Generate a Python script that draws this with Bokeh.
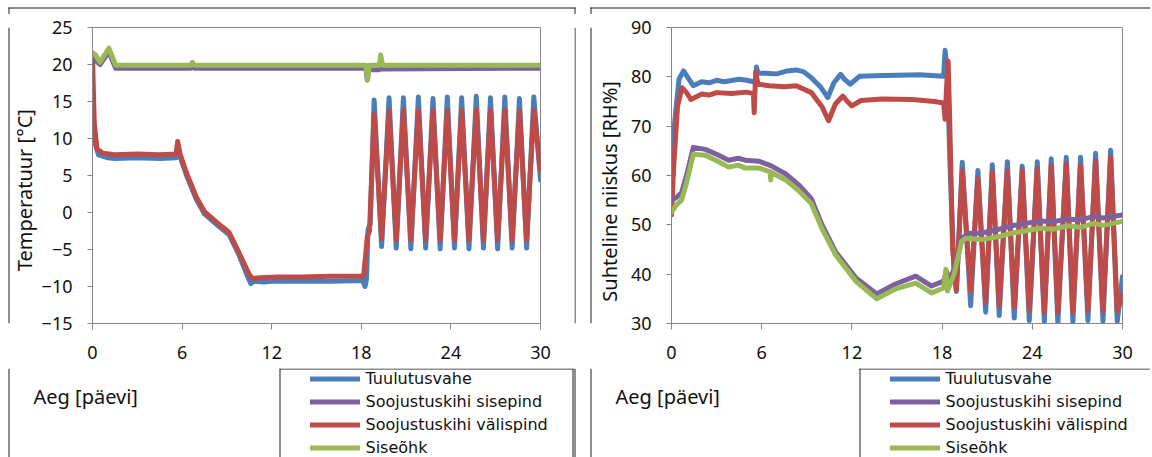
from bokeh.plotting import figure
from bokeh.models import (Range1d, FixedTicker, Legend, LegendItem, Label)
from bokeh.layouts import row, column
from bokeh.embed import file_html
from bokeh.resources import INLINE

# ---------------- DATA ----------------
series_names = ["Tuulutusvahe", "Soojustuskihi sisepind", "Soojustuskihi välispind", "Siseõhk"]
colors = ["#4A7EBB", "#7D60A0", "#BE4B48", "#98B954"]
x_ticks = [0, 6, 12, 18, 24, 30]
temp_ticks = [-15, -10, -5, 0, 5, 10, 15, 20, 25]
rh_ticks = [30, 40, 50, 60, 70, 80, 90]
x_title = "Aeg [päevi]"
temp_title = "Temperatuur [°C]"
rh_title = "Suhteline niiskus [RH%]"

# Temperature chart
t_tv_x = [0, 0.15, 0.4, 1.0, 1.5, 3, 4.5, 5.6, 5.75, 5.85, 6.3, 6.95, 7.5, 8.3, 9.15, 9.8, 10.4, 10.6, 10.8,
          11.5, 12, 14, 16, 18.1, 18.25, 18.35, 18.45, 18.6,
          18.86, 19.36, 19.86, 20.34, 20.82, 21.32, 21.82, 22.31, 22.80, 23.28, 23.76, 24.24, 24.72,
          25.21, 25.70, 26.18, 26.65, 27.13, 27.61, 28.10, 28.59, 29.07, 29.55, 30.0]
t_tv_y = [14.0, 9.5, 7.8, 7.4, 7.3, 7.4, 7.3, 7.4, 9.0, 7.6, 5.0, 1.8, -0.2, -1.6, -3.0, -5.7, -8.7, -9.6, -9.3,
          -9.4, -9.3, -9.3, -9.3, -9.2, -10.0, -9.0, -2.3, -1.5,
          15.2, -4.6, 15.5, -4.8, 15.5, -4.9, 15.6, -4.8, 15.4, -4.9, 15.6, -4.8, 15.5,
          -4.9, 15.7, -4.8, 15.5, -4.9, 15.6, -4.8, 15.4, -4.8, 15.6, 4.4]

t_out_x = [0, 0.12, 0.3, 0.7, 1.5, 3, 4.5, 5.6, 5.7, 5.85, 6.3, 6.95, 7.5, 8.3, 9.15, 9.8, 10.5, 10.7,
           11.5, 12.5, 14, 16, 18.15, 18.25, 18.4, 18.55,
           18.86, 19.36, 19.86, 20.34, 20.82, 21.32, 21.82, 22.31, 22.80, 23.28, 23.76, 24.24, 24.72,
           25.21, 25.70, 26.18, 26.65, 27.13, 27.61, 28.10, 28.59, 29.07, 29.55, 30.0]
t_out_y = [21.0, 12.0, 8.6, 8.0, 7.8, 7.9, 7.8, 7.9, 9.6, 8.0, 5.3, 2.1, 0.1, -1.3, -2.7, -5.4, -8.4, -8.9,
           -8.8, -8.7, -8.7, -8.6, -8.6, -6.6, -3.3, -2.5,
           13.3, -3.5, 13.7, -3.7, 13.8, -3.7, 13.8, -3.7, 13.7, -3.7, 13.8, -3.7, 13.8,
           -3.7, 13.9, -3.7, 13.8, -3.7, 13.8, -3.7, 13.7, -3.7, 13.8, 5.6]

t_in_x = [0, 0.5, 1.1, 1.55, 6.6, 6.7, 6.8, 18.3, 18.4, 18.5, 19.2, 19.3, 19.4, 30]
t_in_y = [20.9, 20.0, 21.7, 19.5, 19.5, 19.8, 19.5, 19.5, 17.9, 19.3, 19.3, 20.6, 19.4, 19.5]

t_air_x = [0, 0.2, 0.5, 1.1, 1.55, 6.6, 6.7, 6.8, 18.3, 18.42, 18.55, 19.2, 19.3, 19.42, 30]
t_air_y = [21.6, 21.3, 20.3, 22.2, 19.9, 19.9, 20.3, 19.9, 19.9, 17.9, 19.9, 19.9, 21.3, 19.9, 19.9]

# Relative humidity chart
rh_tv_x = [0, 0.25, 0.5, 0.8, 1.1, 1.45, 2.0, 2.5, 3.0, 3.5, 4.5, 5.0, 5.6, 5.65, 5.75, 6.5, 7.0, 7.7, 8.3,
           8.8, 9.3, 9.9, 10.4, 10.8, 11.25, 11.5, 11.9, 12.5, 13.5, 15, 16.5, 18.1, 18.2, 18.35, 18.55,
           18.8, 18.95,
           19.34, 19.9, 20.38, 20.9, 21.34, 21.8, 22.34, 22.8, 23.33, 23.8, 24.33, 24.8, 25.26, 25.7,
           26.26, 26.7, 27.21, 27.7, 28.21, 28.7, 29.21, 29.65, 30.0]
rh_tv_y = [64, 72, 79.5, 81.2, 79.8, 78.2, 79.0, 78.8, 79.3, 79.0, 79.5, 79.3, 78.9, 82.0, 80.8, 80.7, 80.6, 81.2, 81.4,
           81.0, 79.8, 78.0, 75.8, 78.8, 80.5, 79.5, 78.5, 80.1, 80.2, 80.3, 80.4, 80.1, 85.4, 80.0, 60,
           40, 36.5,
           62.7, 33.6, 61.0, 32.3, 62.2, 31.6, 62.8, 31.1, 61.9, 30.6, 62.8, 30.4, 63.4, 30.1,
           63.7, 30.4, 63.7, 30.6, 64.5, 30.5, 65.1, 30.4, 39.5]

rh_out_x = [0, 0.15, 0.4, 0.7, 1.0, 1.3, 2.0, 2.5, 3.0, 4.0, 5.0, 5.45, 5.5, 5.6, 5.75, 6.5, 7.5, 8.3, 9.3,
            10.0, 10.45, 10.9, 11.4, 11.7, 12.0, 12.6, 14, 16, 17.5, 18.1, 18.2, 18.3, 18.4, 18.5, 18.7, 18.95,
            19.34, 19.9, 20.38, 20.9, 21.34, 21.8, 22.34, 22.8, 23.33, 23.8, 24.33, 24.8, 25.26, 25.7,
            26.26, 26.7, 27.21, 27.7, 28.21, 28.7, 29.21, 29.65, 30.0]
rh_out_y = [52, 62, 74, 77.8, 76.8, 75.4, 76.5, 76.3, 76.8, 76.6, 76.9, 76.6, 72.7, 81.0, 78.5, 78.2, 78.0, 78.2, 76.8,
            74.0, 71.1, 74.5, 76.1, 75.0, 74.1, 75.2, 75.5, 75.4, 75.0, 74.7, 71.4, 78, 83.2, 72, 45, 36.8,
            61.0, 36.6, 59.4, 34.3, 60.7, 33.6, 61.0, 33.3, 61.0, 32.6, 61.4, 32.3, 62.0, 32.3,
            62.4, 32.3, 62.0, 32.6, 63.0, 32.6, 63.7, 32.6, 36.0]

rh_in_x = [0, 0.3, 0.67, 1.0, 1.45, 2.25, 3.0, 3.8, 4.45, 4.9, 5.8, 6.6, 7.6, 8.5, 9.3, 10.0, 10.9, 12.25,
           13.65, 14.9, 16.25, 17.3, 18.1, 18.3, 18.4, 18.8, 19.3, 19.8, 20.6, 21.9, 22.6, 23.4, 24.5,
           25.4, 26.3, 27.2, 28.1, 28.7, 30]
rh_in_y = [55, 55.5, 56.5, 60, 65.7, 65.3, 64.3, 63.1, 63.5, 63.1, 62.9, 62.0, 60.3, 58.0, 55.3, 50.1, 44.6, 39.3,
           36.0, 38.0, 39.6, 37.6, 38.6, 40.5, 38.5, 41, 47.3, 48.3, 48.3, 49.2, 49.8, 50.2, 50.8,
           50.6, 51.2, 51.0, 51.7, 51.4, 52.0]

rh_air_x = [0, 0.3, 0.67, 1.0, 1.45, 2.25, 3.0, 3.8, 4.45, 4.9, 5.8, 6.55, 6.6, 6.65, 7.6, 8.5, 9.3, 10.0,
            10.9, 12.25, 13.65, 14.9, 16.25, 17.3, 18.1, 18.25, 18.35, 18.8, 19.3, 19.6, 20.6, 21.9, 22.6,
            23.4, 24.5, 25.4, 26.3, 27.2, 28.1, 28.7, 30]
rh_air_y = [52.5, 54.0, 55.0, 58.5, 64.3, 64.1, 63.0, 61.7, 62.1, 61.5, 61.5, 60.8, 59.1, 60.6, 59.1, 56.8, 54.3, 49.3,
            44.0, 38.6, 35.0, 37.0, 38.2, 36.2, 37.2, 41.0, 36.6, 40.0, 46.7, 47.3, 47.0, 47.7, 48.3,
            48.7, 49.3, 49.1, 49.8, 49.5, 50.3, 49.9, 50.7]

FONT = "Noto Sans"
LEG_FONT = "DejaVu Sans"
FS_TICK = "18px"
FS_LEG = "16px"
FS_TITLE = "20px"
TXT = "#111111"
AX = "#868686"
BORDER = "#1f1f1f"
TOP = 14         # height of the top strip (page y 0..14)
B0 = 368         # page y where the bottom strip starts
ROW_H = B0 - TOP
W = 1150


def blank(width, height, x0, x1, y0, y1):
    """A figure whose frame is its whole canvas; data units == page pixels."""
    f = figure(width=width, height=height, x_range=Range1d(x0, x1), y_range=Range1d(y1, y0),
               output_backend="svg", toolbar_location=None,
               x_axis_location=None, y_axis_location=None,
               min_border_left=0, min_border_right=0, min_border_top=0, min_border_bottom=0)
    f.outline_line_color = None
    f.xgrid.visible = False
    f.ygrid.visible = False
    f.background_fill_color = "white"
    f.border_fill_color = "white"
    return f


def rule(f, l, r, t, b):
    f.quad(left=[l], right=[r], top=[t], bottom=[b], fill_color=BORDER, line_color=None)


def title_label(f, x, y, text, angle=0.0, align="left", baseline="alphabetic"):
    f.add_layout(Label(x=x, y=y, text=text, angle=angle, text_align=align, text_baseline=baseline,
                       text_font=FONT, text_font_size=FS_TITLE, text_color=TXT))


def make_chart(width, mb_left, mb_right, frame_top, frame_h, yr, yticks, series):
    mb_top = frame_top - TOP
    p = figure(width=width, height=ROW_H, x_range=Range1d(0, 30), y_range=Range1d(*yr),
               output_backend="svg", toolbar_location=None,
               min_border_left=mb_left, min_border_right=mb_right,
               min_border_top=mb_top, min_border_bottom=ROW_H - mb_top - frame_h)
    p.background_fill_color = "white"
    p.border_fill_color = "white"
    p.outline_line_color = AX
    p.xgrid.visible = False
    p.ygrid.visible = False
    for ax in (p.xaxis[0], p.yaxis[0]):
        ax.axis_line_color = AX
        ax.major_tick_line_color = AX
        ax.minor_tick_line_color = None
        ax.major_tick_in = 0
        ax.major_label_text_font = FONT
        ax.major_label_text_font_size = FS_TICK
        ax.major_label_text_color = TXT
    p.xaxis[0].ticker = FixedTicker(ticks=x_ticks)
    p.yaxis[0].ticker = FixedTicker(ticks=yticks)
    p.xaxis[0].major_tick_out = 6
    p.yaxis[0].major_tick_out = 5
    p.xaxis[0].major_label_standoff = 16
    p.yaxis[0].major_label_standoff = 15

    order = [0, 2, 1, 3]  # blue, red, purple, green drawn in this order
    for i in order:
        xs, ys = series[i]
        p.line(xs, ys, line_color=colors[i], line_width=5, line_join="round", line_cap="round")
    return p


# page x: left strip 0..38 | left chart 38..574 | mid strip 574..627 | right chart 627..1150
pL = make_chart(536, 53, 34, 27, 297, (-15, 25), temp_ticks,
                [(t_tv_x, t_tv_y), (t_in_x, t_in_y), (t_out_x, t_out_y), (t_air_x, t_air_y)])
pR = make_chart(W - 627, 44, W - 627 - 44 - 451, 24, 299, (30, 90), rh_ticks,
                [(rh_tv_x, rh_tv_y), (rh_in_x, rh_in_y), (rh_out_x, rh_out_y), (rh_air_x, rh_air_y)])

# top border strip
top_strip = blank(W, TOP, 0, W, 0, TOP)
rule(top_strip, 8, 575, 7, 8)
rule(top_strip, 590, W, 7, 8)
rule(top_strip, 8, 9, 7, TOP)
rule(top_strip, 574, 575, 7, TOP)
rule(top_strip, 590, 591, 7, TOP)

# left strip: outer border + y title of left chart
left_strip = blank(38, ROW_H, 0, 38, TOP, B0)
rule(left_strip, 8, 9, TOP, B0)
title_label(left_strip, 24.4, 208.5, temp_title, angle=1.5707963, align="center", baseline="middle")

# middle strip: borders of both boxes + y title of right chart
mid_strip = blank(53, ROW_H, 574, 627, TOP, B0)
rule(mid_strip, 574, 575, TOP, B0)
rule(mid_strip, 590, 591, TOP, B0)
title_label(mid_strip, 608.5, 210, rh_title, angle=1.5707963, align="center", baseline="middle")

# bottom strip (page y 368..457): x titles and legends
bottom = blank(W, 457 - B0, 0, W, B0, 457)
for bx in (8, 574, 590):
    rule(bottom, bx, bx + 1, B0, 457)
# legend boxes
rule(bottom, 279, 573, B0, B0 + 1)
rule(bottom, 279, 280, B0, 457)
rule(bottom, 572, 573, B0, 457)
rule(bottom, 859, W, B0, B0 + 1)
rule(bottom, 859, 860, B0, 457)

title_label(bottom, 33, 396, x_title)
title_label(bottom, 615, 396, x_title)

# legend glyph sources: the temperature series, which lie outside this strip's visible range
proxies = [bottom.line(xs, ys, line_color=c, line_width=5, line_cap="round")
           for (xs, ys), c in zip([(t_tv_x, t_tv_y), (t_in_x, t_in_y), (t_out_x, t_out_y), (t_air_x, t_air_y)],
                                  colors)]
for vx in (309.5, 889.5):
    items = [LegendItem(label=series_names[i], renderers=[proxies[i]]) for i in range(4)]
    leg = Legend(items=items, location=(vx, -2), orientation="vertical",
                 border_line_alpha=0, background_fill_alpha=0,
                 padding=0, spacing=0, margin=0,
                 glyph_width=50, glyph_height=23, label_height=23, label_standoff=6,
                 label_text_font=LEG_FONT, label_text_font_size=FS_LEG, label_text_color=TXT)
    bottom.add_layout(leg)

layout = column(top_strip, row(left_strip, pL, mid_strip, pR), bottom)
open("out.html", "w").write(file_html(layout, INLINE))
